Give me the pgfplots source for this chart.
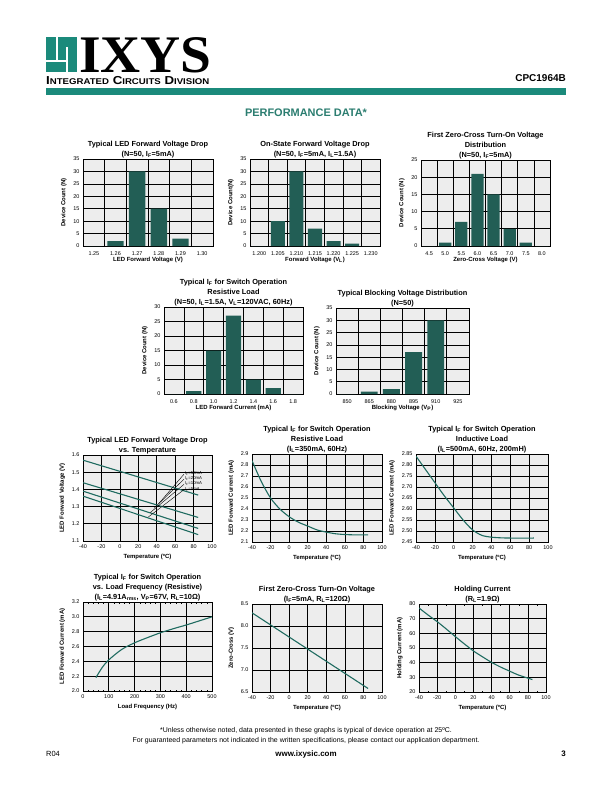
\documentclass[border=0pt]{standalone}
\usepackage{fontspec}
\setmainfont{Liberation Sans}
\newfontfamily\logofont[FakeStretch=1.05]{Liberation Serif}
\newfontfamily\widefont[FakeStretch=1.15]{Liberation Sans}
\usepackage{pgfplots}
\pgfplotsset{compat=1.18}

\definecolor{teal1}{HTML}{1B8A7B}
\definecolor{barc}{HTML}{225E55}
\definecolor{linec}{HTML}{1F6B60}
\definecolor{bgg}{HTML}{EDEDED}
\definecolor{ttl}{HTML}{2B7D70}

\newcommand{\sub}[1]{\textsubscript{#1}}
\newcommand{\sm}[1]{{\fontsize{8.4}{9}\selectfont #1}}

\pgfplotsset{
  base/.style={
    scale only axis, anchor=north west,
    axis background/.style={fill=bgg},
    axis line style={line width=0.8pt},
    grid style={black, line width=0.7pt},
    tick style={draw=none},
    tick label style={font=\fontsize{5.5}{6}\selectfont},
    label style={font=\bfseries\fontsize{6}{7}\selectfont},
    title style={font=\bfseries\fontsize{7.4}{9.8}\selectfont, align=center,
      at={(0.5,1)}, anchor=south, inner sep=1.5pt, yshift=-6.5pt},
    /pgf/number format/assume math mode=true,
  },
  bars/.style={base, ybar, bar width=0.76, bar shift=0pt, xtick=data,
    xmin=-0.5, xmax=#1, ymin=0, ymajorgrids, xminorgrids,
    minor xtick={0.5,1.5,...,9.5},
    x tick label style={yshift=2.5pt}, xlabel style={yshift=5pt}},
  lines/.style={base, grid=major, xmin=-40, xmax=100, xtick distance=20,
    xlabel={Temperature (ºC)}, xlabel style={yshift=1pt}},
  curve/.style={linec, line width=1.1pt},
}

\begin{document}
\begin{tikzpicture}
\path[use as bounding box] (0,0) rectangle (612bp,-792bp);
\fill[white] (0,0) rectangle (612bp,-792bp);

% header and footer
\begin{scope}[x=1bp, y=-1bp]
  \fill[teal1] (46,37) rectangle (77,72);
  \fill[white] (56,37) rectangle (58,60);
  \fill[white] (46,60) rectangle (68,62);
  \fill[white] (66,47) rectangle (68,72);
  \node[anchor=base west, inner sep=0pt] at (79,72)
    {\logofont\bfseries\fontsize{53}{53}\selectfont IXYS};
  \node[anchor=base west, inner sep=0pt] at (46,84.5)
    {\widefont\bfseries\fontsize{11.6}{12}\selectfont I\sm{NTEGRATED} C\sm{IRCUITS} D\sm{IVISION}};
  \node[anchor=base east, inner sep=0pt] at (566,81)
    {\bfseries\fontsize{10}{12}\selectfont CPC1964B};
  \fill[teal1] (46,88) rectangle (566,95);
  \node[anchor=base, inner sep=0pt, text=ttl] at (306,116)
    {\bfseries\fontsize{11}{12}\selectfont PERFORMANCE DATA*};
  \node[anchor=base, inner sep=0pt] at (306,732)
    {\fontsize{7}{8}\selectfont *Unless otherwise noted, data presented in these graphs is typical of device operation at 25ºC.};
  \node[anchor=base, inner sep=0pt] at (306,742)
    {\fontsize{7}{8}\selectfont For guaranteed parameters not indicated in the written specifications, please contact our application department.};
  \node[anchor=base west, inner sep=0pt] at (46,756) {\fontsize{7.5}{8}\selectfont R04};
  \node[anchor=base, inner sep=0pt] at (306,756) {\bfseries\fontsize{8}{9}\selectfont www.ixysic.com};
  \node[anchor=base east, inner sep=0pt] at (566,756) {\bfseries\fontsize{8}{9}\selectfont 3};
\end{scope}

% row 1
\begin{axis}[bars=5.5, at={(83bp,-159bp)}, width=130bp, height=87bp,
  ymax=35, ytick distance=5,
  xticklabels={1.25,1.26,1.27,1.28,1.29,1.30},
  title={Typical LED Forward Voltage Drop\\(N=50, I\sub{F}=5mA)},
  xlabel={LED Forward Voltage (V)}, ylabel={Device Count (N)}]
\addplot[fill=barc, draw=none] coordinates {(0,0)(1,2)(2,30)(3,15)(4,3)(5,0)};
\end{axis}

\begin{axis}[bars=6.5, at={(250bp,-159bp)}, width=130bp, height=87bp,
  ymax=35, ytick distance=5,
  xticklabels={1.200,1.205,1.210,1.215,1.220,1.225,1.230},
  title={On-State Forward Voltage Drop\\(N=50, I\sub{F}=5mA, I\sub{L}=1.5A)},
  xlabel={Forward Voltage (V\sub{L})}, ylabel={Device Count(N)}]
\addplot[fill=barc, draw=none] coordinates {(0,0)(1,10)(2,30)(3,7)(4,2)(5,1)(6,0)};
\end{axis}

\begin{axis}[bars=7.5, at={(421bp,-160bp)}, width=129bp, height=86bp,
  ymax=25, ytick distance=5,
  xticklabels={4.5,5.0,5.5,6.0,6.5,7.0,7.5,8.0},
  title={First Zero-Cross Turn-On Voltage\\Distribution\\(N=50, I\sub{F}=5mA)},
  xlabel={Zero-Cross Voltage (V)}, ylabel={Device Count (N)}]
\addplot[fill=barc, draw=none] coordinates {(0,0)(1,1)(2,7)(3,21)(4,15)(5,5)(6,1)(7,0)};
\end{axis}

% row 2
\begin{axis}[bars=6.5, at={(164bp,-307bp)}, width=139bp, height=87bp,
  ymax=30, ytick distance=5,
  xticklabels={0.6,0.8,1.0,1.2,1.4,1.6,1.8},
  title={Typical I\sub{F} for Switch Operation\\Resistive Load\\(N=50, I\sub{L}=1.5A, V\sub{L}=120VAC, 60Hz)},
  xlabel={LED Forward Current (mA)}, ylabel={Device Count (N)}]
\addplot[fill=barc, draw=none] coordinates {(0,0)(1,1)(2,15)(3,27)(4,5)(5,2)(6,0)};
\end{axis}

\begin{axis}[bars=5.5, at={(336bp,-308bp)}, width=133bp, height=86bp,
  ymax=35, ytick distance=5,
  xticklabels={850,865,880,895,910,925},
  title={Typical Blocking Voltage Distribution\\(N=50)},
  xlabel={Blocking Voltage (V\sub{P})}, ylabel={Device Count (N)}]
\addplot[fill=barc, draw=none] coordinates {(0,0)(1,1)(2,2)(3,17)(4,30)(5,0)};
\end{axis}

% row 3
\begin{axis}[lines, at={(83bp,-455bp)}, width=129bp, height=86bp,
  ymin=1.1, ymax=1.6, ytick={1.1,1.2,1.3,1.4,1.5,1.6},
  yticklabel style={/pgf/number format/.cd, fixed, fixed zerofill, precision=1},
  title={Typical LED Forward Voltage Drop\\vs. Temperature},
  ylabel={LED Forward Voltage (V)}]
\addplot[curve] coordinates {(-40,1.570)(85,1.367)};
\addplot[curve] coordinates {(-40,1.439)(85,1.237)};
\addplot[curve] coordinates {(-40,1.390)(85,1.173)};
\addplot[curve] coordinates {(-40,1.361)(85,1.137)};
\begin{scope}[every node/.style={anchor=west, inner sep=0.3pt, font=\fontsize{4.3}{4.5}\selectfont}]
  \node at (axis cs:70,1.492) {I\sub{F}=50mA};
  \node at (axis cs:70,1.463) {I\sub{F}=20mA};
  \node at (axis cs:70,1.433) {I\sub{F}=10mA};
  \node at (axis cs:70,1.402) {I\sub{F}=5mA};
\end{scope}
\draw[line width=0.4pt] (axis cs:69.5,1.488) -- (axis cs:42,1.316);
\draw[line width=0.4pt] (axis cs:69.5,1.459) -- (axis cs:37,1.290);
\draw[line width=0.4pt] (axis cs:69.5,1.429) -- (axis cs:33,1.265);
\draw[line width=0.4pt] (axis cs:69.5,1.398) -- (axis cs:31,1.240);
\end{axis}

\begin{axis}[lines, at={(252bp,-454bp)}, width=130bp, height=88bp,
  ymin=2.1, ymax=2.9, ytick={2.1,2.2,2.3,2.4,2.5,2.6,2.7,2.8,2.9},
  yticklabel style={/pgf/number format/.cd, fixed, fixed zerofill, precision=1},
  title={Typical I\sub{F} for Switch Operation\\Resistive Load\\(I\sub{L}=350mA, 60Hz)},
  ylabel={LED Forward Current (mA)}]
\addplot[curve, smooth] coordinates {(-40,2.84)(-30,2.65)(-20,2.50)(-10,2.40)(0,2.33)(10,2.28)(20,2.245)(30,2.21)(40,2.19)(50,2.175)(60,2.168)(70,2.165)(85,2.165)};
\end{axis}

\begin{axis}[lines, at={(416bp,-454bp)}, width=132bp, height=88bp,
  ymin=2.45, ymax=2.85, ytick={2.45,2.5,2.55,2.6,2.65,2.7,2.75,2.8,2.85},
  yticklabel style={/pgf/number format/.cd, fixed, fixed zerofill, precision=2},
  title={Typical I\sub{F} for Switch Operation\\Inductive Load\\(I\sub{L}=500mA, 60Hz, 200mH)},
  ylabel={LED Forward Current (mA)}]
\addplot[curve, smooth] coordinates {(-40,2.84)(-30,2.78)(-20,2.72)(-10,2.66)(0,2.605)(10,2.55)(20,2.505)(30,2.48)(40,2.472)(50,2.469)(60,2.468)(85,2.468)};
\end{axis}

% row 4
\begin{axis}[base, grid=major, at={(83bp,-602bp)}, width=129bp, height=89bp,
  xmin=0, xmax=500, xtick distance=100,
  ymin=2.0, ymax=3.2, ytick={2,2.2,2.4,2.6,2.8,3,3.2},
  yticklabel style={/pgf/number format/.cd, fixed, fixed zerofill, precision=1},
  minor x tick num=4, minor tick style={draw=black, line width=0.5pt}, minor tick length=1.5pt,
  title={Typical I\sub{F} for Switch Operation\\vs. Load Frequency (Resistive)\\(I\sub{L}=4.91A\sub{rms}, V\sub{P}=67V, R\sub{L}=10Ω)},
  xlabel={Load Frequency (Hz)}, xlabel style={yshift=1pt}, ylabel={LED Forward Current (mA)}]
\addplot[curve, smooth] coordinates {(50,2.18)(75,2.32)(100,2.42)(150,2.56)(200,2.65)(250,2.72)(300,2.785)(350,2.84)(400,2.89)(450,2.945)(500,3.0)};
\end{axis}

\begin{axis}[lines, at={(252bp,-604bp)}, width=130bp, height=88bp,
  ymin=6.5, ymax=8.5, ytick={6.5,7,7.5,8,8.5},
  yticklabel style={/pgf/number format/.cd, fixed, fixed zerofill, precision=1},
  title={First Zero-Cross Turn-On Voltage\\(I\sub{F}=5mA, R\sub{L}=120Ω)},
  ylabel={Zero-Cross (V)}]
\addplot[curve] coordinates {(-40,8.30)(85,6.58)};
\end{axis}

\begin{axis}[lines, at={(419bp,-604bp)}, width=127bp, height=88bp,
  ymin=20, ymax=80, ytick distance=10,
  minor x tick num=1, minor tick style={draw=black, line width=0.5pt}, minor tick length=1.5pt,
  title={Holding Current\\(R\sub{L}=1.9Ω)},
  ylabel={Holding Current (mA)}]
\addplot[curve, smooth] coordinates {(-40,77.3)(-30,72.5)(-20,68)(-10,63)(0,57.8)(10,52.8)(20,48)(30,44)(40,40.2)(50,37)(60,34.2)(70,31.5)(85,28.5)};
\end{axis}
\end{tikzpicture}
\end{document}
